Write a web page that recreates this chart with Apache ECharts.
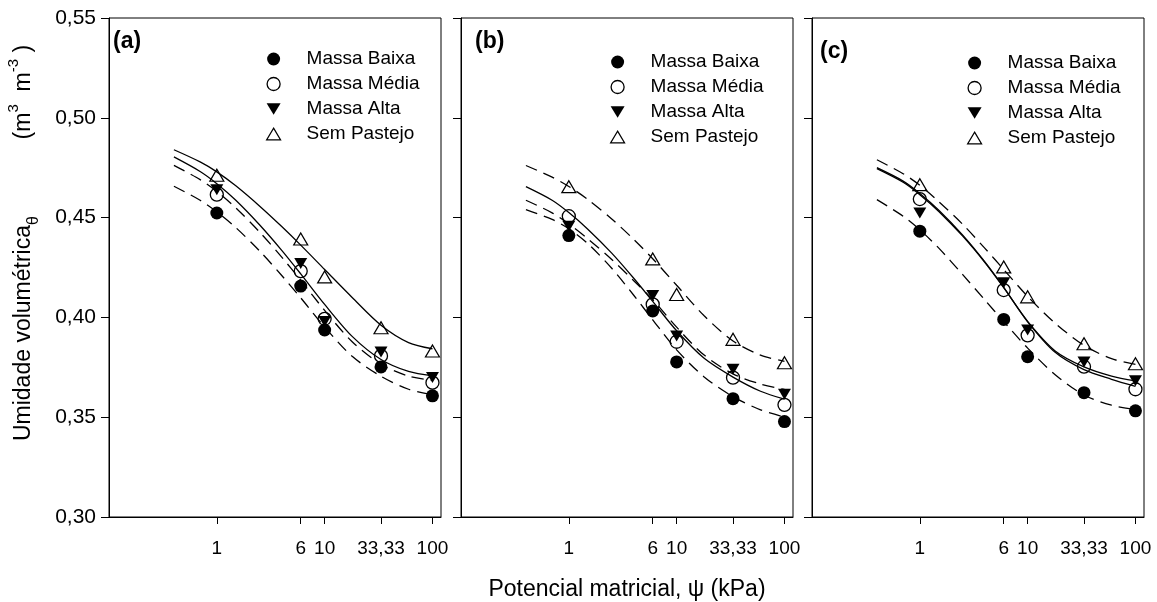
<!DOCTYPE html>
<html>
<head>
<meta charset="utf-8">
<script src="https://cdn.jsdelivr.net/npm/echarts@6/dist/echarts.min.js"></script>
<style>
html, body { margin: 0; padding: 0; background: #fff; }
#chart { width: 1157px; height: 602px; }
</style>
</head>
<body>
<div id="chart"></div>
<script>
// 观测点 (kPa)
const psi = [1, 6, 10, 33.33, 100];
const xTicks = [1, 6, 10, 33.33, 100];
const xTickLabels = ['1', '6', '10', '33,33', '100'];
const names = ['Massa Baixa', 'Massa Média', 'Massa Alta', 'Sem Pastejo'];

// (a) 观测值
const aBaixa = [0.4523, 0.4157, 0.3937, 0.3752, 0.3607];
const aMedia = [0.4615, 0.4232, 0.3993, 0.3807, 0.3673];
const aAlta = [0.4640, 0.4270, 0.3980, 0.3827, 0.3699];
const aSem = [0.4712, 0.4393, 0.4203, 0.3948, 0.3832];
// (b)
const bBaixa = [0.4410, 0.4032, 0.3777, 0.3593, 0.3478];
const bMedia = [0.4507, 0.4065, 0.3878, 0.3698, 0.3562];
const bAlta = [0.4457, 0.4110, 0.3907, 0.3740, 0.3615];
const bSem = [0.4655, 0.4293, 0.4115, 0.3890, 0.3773];
// (c)
const cBaixa = [0.4432, 0.3990, 0.3803, 0.3623, 0.3532];
const cMedia = [0.4593, 0.4137, 0.3910, 0.3753, 0.3640];
const cAlta = [0.4523, 0.4173, 0.3937, 0.3777, 0.3682];
const cSem = [0.4665, 0.4253, 0.4103, 0.3868, 0.3768];

// 拟合曲线
const fitX = [0.4, 0.7, 1, 1.5, 2.5, 4, 6, 10, 18, 33.33, 60, 100];
const fitABaixa = [0.4657, 0.4587, 0.4529, 0.4450, 0.4332, 0.4210, 0.4098, 0.3952, 0.3805, 0.3705, 0.3640, 0.3612];
const fitAMedia = [0.4762, 0.4690, 0.4631, 0.4549, 0.4427, 0.4302, 0.4186, 0.4035, 0.3878, 0.3765, 0.3706, 0.3685];
const fitAAlta = [0.4804, 0.4731, 0.4670, 0.4587, 0.4463, 0.4336, 0.4218, 0.4065, 0.3905, 0.3789, 0.3729, 0.3707];
const fitASem = [0.4840, 0.4779, 0.4729, 0.4659, 0.4557, 0.4455, 0.4362, 0.4240, 0.4100, 0.3961, 0.3874, 0.3843];

const fitBBaixa = [0.4540, 0.4491, 0.4444, 0.4370, 0.4246, 0.4111, 0.3988, 0.3837, 0.3702, 0.3603, 0.3537, 0.3501];
const fitBMedia = [0.4655, 0.4587, 0.4525, 0.4442, 0.4322, 0.4196, 0.4080, 0.3933, 0.3795, 0.3701, 0.3630, 0.3590];
const fitBAlta = [0.4587, 0.4524, 0.4468, 0.4394, 0.4290, 0.4184, 0.4089, 0.3951, 0.3811, 0.3717, 0.3666, 0.3639];
const fitBSem = [0.4761, 0.4703, 0.4656, 0.4591, 0.4493, 0.4391, 0.4294, 0.4161, 0.4008, 0.3882, 0.3811, 0.3780];

const fitCBaixa = [0.4590, 0.4507, 0.4439, 0.4347, 0.4214, 0.4088, 0.3979, 0.3846, 0.3713, 0.3611, 0.3560, 0.3538];
const fitCMedia = [0.4750, 0.4683, 0.4621, 0.4537, 0.4412, 0.4279, 0.4150, 0.3978, 0.3825, 0.3738, 0.3690, 0.3655];
const fitCAlta = [0.4745, 0.4677, 0.4615, 0.4531, 0.4407, 0.4276, 0.4149, 0.3980, 0.3832, 0.3752, 0.3706, 0.3682];
const fitCSem = [0.4790, 0.4720, 0.4662, 0.4580, 0.4466, 0.4347, 0.4240, 0.4105, 0.3971, 0.3860, 0.3793, 0.3765];

const panels = [
    { label: '(a)', points: [aBaixa, aMedia, aAlta, aSem], fits: [fitABaixa, fitAMedia, fitAAlta, fitASem], dashed: [true, true, false, false] },
    { label: '(b)', points: [bBaixa, bMedia, bAlta, bSem], fits: [fitBBaixa, fitBMedia, fitBAlta, fitBSem], dashed: [true, false, true, true] },
    { label: '(c)', points: [cBaixa, cMedia, cAlta, cSem], fits: [fitCBaixa, fitCMedia, fitCAlta, fitCSem], dashed: [true, false, false, true] }
];

const FONT = 'Liberation Sans, Arial, sans-serif';
const hollow = 'rgba(255,255,255,0)';
const symbols = ['circle', 'circle', 'path://M0,0L12,0L6,10Z', 'path://M6,0L12,10L0,10Z'];
const symbolSizes = [13, 13, [13, 11], [14, 12]];
const symbolStyles = [
    { color: '#000', opacity: 1 },
    { color: hollow, borderColor: '#000', borderWidth: 1.3, opacity: 1 },
    { color: '#000', opacity: 1 },
    { color: hollow, borderColor: '#000', borderWidth: 1.2, opacity: 1 }
];

const gridLefts = [109, 461, 812];
const legendPos = [[266, 49], [610, 52], [967, 53]];
const labelPos = [[113, 30], [475, 30], [820, 40]];

const chart = echarts.init(document.querySelector('#chart'));

const grids = [], xAxes = [], yAxes = [], series = [], legends = [], titles = [];

panels.forEach((p, k) => {
    grids.push({
        left: gridLefts[k], top: 18, width: 332, height: 499,
        show: true, borderColor: '#000', borderWidth: 1,
        outerBoundsMode: 'none'
    });
    xAxes.push({
        gridIndex: k,
        type: 'log',
        logBase: 10,
        min: 0.1,
        max: 120,
        axisLine: { show: true, lineStyle: { color: '#000', width: 1 } },
        axisTick: { show: true, length: 7, customValues: xTicks, lineStyle: { color: '#000' } },
        minorTick: { show: false },
        splitLine: { show: false },
        axisLabel: {
            customValues: xTicks,
            margin: 22,
            fontSize: 19,
            fontFamily: FONT,
            color: '#000',
            formatter: (v) => {
                let i = xTicks.findIndex(t => Math.abs(Math.log10(t) - Math.log10(v)) < 1e-4);
                return i >= 0 ? xTickLabels[i] : '';
            }
        }
    });
    yAxes.push({
        gridIndex: k,
        type: 'value',
        min: 0.3,
        max: 0.55,
        interval: 0.05,
        axisLine: { show: true, lineStyle: { color: '#000', width: 1 } },
        axisTick: { show: true, length: 8, lineStyle: { color: '#000' } },
        splitLine: { show: false },
        axisLabel: {
            show: k === 0,
            margin: 13,
            fontSize: 21,
            fontFamily: FONT,
            color: '#000',
            formatter: (v) => v.toFixed(2).replace('.', ',')
        }
    });

    // 拟合曲线
    p.fits.forEach((f, i) => {
        series.push({
            name: 'fit ' + p.label + ' ' + names[i],
            type: 'line',
            xAxisIndex: k,
            yAxisIndex: k,
            data: fitX.map((x, j) => [x, f[j]]),
            smooth: 0.3,
            showSymbol: false,
            silent: true,
            z: 2,
            lineStyle: { color: '#000', width: 1.3, type: p.dashed[i] ? [12, 7] : 'solid' }
        });
    });
    // 观测点
    p.points.forEach((vals, i) => {
        series.push({
            name: names[i],
            type: 'scatter',
            xAxisIndex: k,
            yAxisIndex: k,
            data: psi.map((x, j) => [x, vals[j]]),
            symbol: symbols[i],
            symbolSize: symbolSizes[i],
            itemStyle: symbolStyles[i],
            z: 5
        });
    });

    legends.push({
        orient: 'vertical',
        left: legendPos[k][0],
        top: legendPos[k][1],
        padding: 0,
        itemWidth: 14,
        itemHeight: 13,
        itemGap: 5,
        selectedMode: false,
        textStyle: { fontSize: 19, fontFamily: FONT, color: '#000', lineHeight: 20, padding: [0, 0, 0, 21] },
        data: names.map((n, i) => ({ name: n, icon: symbols[i], itemStyle: symbolStyles[i] }))
    });

    titles.push({
        text: p.label,
        left: labelPos[k][0],
        top: labelPos[k][1],
        padding: 0,
        textStyle: { fontSize: 23, fontWeight: 'bold', fontFamily: FONT, color: '#000' }
    });
});

chart.setOption({
    animation: false,
    backgroundColor: '#fff',
    title: titles,
    legend: legends,
    grid: grids,
    xAxis: xAxes,
    yAxis: yAxes,
    series: series,
    graphic: [
        {
            type: 'text',
            x: 24,
            y: 243,
            rotation: Math.PI / 2,
            style: {
                text: '{t|Umidade volumétrica}{s|θ}{t|            (m}{p|3}{t|  m}{p|-3}{t| )}',
                align: 'center',
                verticalAlign: 'middle',
                fill: '#000',
                rich: {
                    t: { fontSize: 23, fontFamily: FONT, lineHeight: 36, verticalAlign: 'middle', color: '#000' },
                    s: { fontSize: 16, fontFamily: FONT, lineHeight: 16, verticalAlign: 'bottom', color: '#000' },
                    p: { fontSize: 15, fontFamily: FONT, lineHeight: 15, verticalAlign: 'top', color: '#000' }
                }
            }
        },
        {
            type: 'text',
            x: 627,
            y: 590,
            style: {
                text: 'Potencial matricial, ψ (kPa)',
                align: 'center',
                verticalAlign: 'middle',
                fontSize: 23,
                fontFamily: FONT,
                fill: '#000'
            }
        }
    ]
});
</script>
</body>
</html>
